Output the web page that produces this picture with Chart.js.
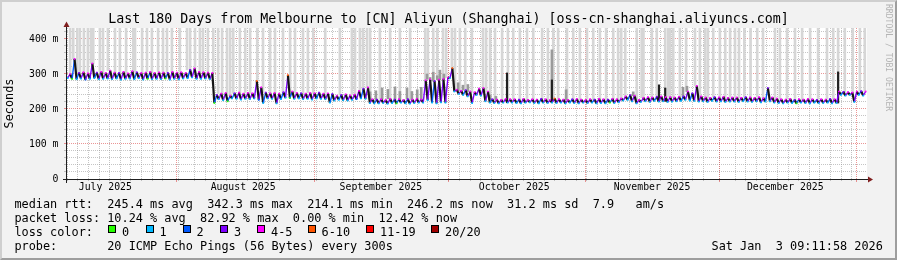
<!DOCTYPE html>
<html><head><meta charset="utf-8">
<script src="https://cdn.jsdelivr.net/npm/chart.js@4/dist/chart.umd.min.js"></script>
<style>
html,body{margin:0;padding:0;background:#f2f2f2;}
#frame{position:absolute;left:0;top:0;width:897px;height:260px;box-sizing:border-box;border-style:solid;border-width:2px;border-color:#cfcfcf #9e9e9e #9e9e9e #cfcfcf;background:#f2f2f2;}
#c{position:absolute;left:0;top:0;}
.t{position:absolute;font-family:'DejaVu Sans Mono',monospace;white-space:pre;color:#000;font-size:11.86px;line-height:14px;}
#title{left:0;width:897px;text-align:center;top:11px;font-size:13.3px;line-height:16px;}
#wm{position:absolute;left:884px;top:4px;font-family:'DejaVu Sans Mono',monospace;font-size:8.1px;color:#b4b4b4;writing-mode:vertical-rl;white-space:pre;}
.box{position:absolute;width:6px;height:6px;border:1px solid #000;}
</style></head>
<body>
<div id="frame"></div>
<canvas id="c" width="897" height="260"></canvas>
<div class="t" id="title">Last 180 Days from Melbourne to [CN] Aliyun (Shanghai) [oss-cn-shanghai.aliyuncs.com]</div>
<div id="wm">RRDTOOL / TOBI OETIKER</div>
<div id="legend"></div>
<script>
// ---- data (days since Jul 7 2025 09:11:58, 180 days) ----
const months = ['July 2025','August 2025','September 2025','October 2025','November 2025','December 2025'];
const monthMidDays = [8.62, 39.62, 70.62, 100.62, 131.62, 161.62];
const monthStartDays = [24.62, 55.62, 85.62, 116.62, 146.62, 177.62];
const yTickValues = [0, 100, 200, 300, 400];

// daily median peak (ms)
const medianPeak = [
 300,343,303,305,302,330,304,306,303,310,
 304,303,306,302,308,305,303,304,306,303,
 305,304,303,306,304,305,303,312,316,306,
 305,304,303,240,244,246,238,245,247,244,
 246,245,280,262,247,245,246,244,248,297,
 250,246,245,244,246,245,247,244,245,243,
 238,240,242,239,241,252,258,262,228,227,
 228,226,229,227,228,226,228,227,229,227,
 282,285,280,284,286,290,317,255,252,254,
 250,248,258,260,250,228,227,226,229,228,
 228,227,229,226,228,227,229,228,226,230,
 228,227,226,228,229,227,226,228,227,229,
 228,227,229,228,230,236,240,238,226,232,
 234,233,235,236,234,234,233,235,236,250,
 245,266,236,233,232,234,233,235,232,233,
 233,232,234,233,232,234,231,260,233,230,
 228,227,229,226,228,227,229,228,226,228,
 227,229,228,250,249,248,247,250,251,250];
// daily median trough (ms)
const medianTrough = [
 288,286,285,287,284,286,288,285,286,287,
 285,287,284,286,287,285,288,284,286,285,
 286,285,287,284,286,285,287,288,290,286,
 286,287,285,217,228,225,222,230,229,227,
 229,228,230,226,217,230,229,216,228,232,
 231,229,230,228,229,227,230,229,228,218,
 224,226,225,224,226,228,230,229,217,216,
 216,217,215,217,216,218,216,215,217,218,
 218,225,218,216,219,218,288,250,243,240,
 236,217,240,238,222,218,217,216,218,218,
 218,217,216,218,219,217,216,218,217,218,
 217,218,216,218,217,216,218,217,218,216,
 217,216,218,217,219,224,226,222,216,220,
 222,220,223,221,222,220,221,222,223,226,
 224,223,221,222,220,223,221,222,220,221,
 221,220,222,221,220,222,219,221,222,218,
 217,216,218,217,216,218,217,216,218,217,
 217,218,216,217,240,238,240,220,240,238];
// loss class at the peaks / troughs (index into loss colours)
const lossPeak = [
 4,4,3,4,4,4,3,4,4,4, 4,3,4,4,4,3,4,4,4,4, 4,4,3,4,4,4,4,3,4,4, 4,4,4,3,4,4,4,3,4,4,
 4,4,5,4,3,4,4,4,3,5, 4,4,3,4,4,4,3,4,4,3, 4,3,4,4,4,4,3,4,4,3, 4,4,4,3,4,4,3,4,4,4,
 4,4,3,4,4,4,5,4,4,3, 4,4,4,4,4,3,4,4,4,4, 4,3,4,4,4,4,3,4,4,5, 4,4,4,3,4,4,4,4,3,4,
 4,3,4,4,4,4,3,4,4,4, 4,4,3,4,4,4,4,4,3,4, 3,4,4,4,4,3,4,4,4,4, 4,4,3,4,4,4,4,3,4,4,
 4,4,4,3,4,4,4,4,3,4, 4,3,4,4,3,4,4,4,3,4];
const lossTrough = [
 1,0,1,1,2,1,1,1,1,1, 1,1,1,1,1,1,1,1,0,1, 1,1,0,1,1,1,1,1,1,1, 1,1,1,0,1,1,0,1,1,1,
 1,1,1,2,1,1,1,1,1,1, 0,1,1,1,1,1,1,1,1,1, 1,1,1,1,1,2,1,1,1,1, 1,1,1,1,0,1,1,1,1,1,
 1,1,1,1,1,1,1,1,1,1, 1,1,1,1,1,1,1,1,1,1, 1,1,1,1,1,1,1,1,1,1, 1,1,1,1,1,1,1,1,1,1,
 1,1,0,1,1,1,1,1,1,1, 1,1,1,1,1,1,1,1,1,1, 1,1,1,1,1,1,1,1,1,1, 1,1,1,1,1,1,1,1,1,1,
 1,1,1,1,0,1,1,1,1,1, 1,1,1,1,1,1,1,1,1,1];
// light grey smoke reaching above the graph (day positions)
const tallSmoke = [
 0.7,1.4,2.3,2.9,3.8,4.7,5.4,5.9,7.4,8.1,9.2,10.8,11.9,13.3,14.9,15.3,16.9,18.0,19.1,20.5,21.6,22.5,23.6,25.4,27.0,27.7,28.8,29.9,30.6,31.7,
 32.9,34.0,34.9,36.0,36.7,37.4,38.9,40.1,41.2,42.8,44.1,45.7,46.8,48.6,50.2,51.3,53.1,54.2,55.4,58.1,
 61.4,64.1,64.8,65.9,66.6,67.5,68.2,70.4,72.7,74.9,77.2,80.6,81.2,82.4,83.3,84.6,85.3,
 86.6,87.3,88.4,89.6,91.1,93.6,94.3,95.2,96.3,97.9,99.2,100.4,101.9,103.5,104.9,106.9,108.2,109.4,110.5,112.5,113.9,115.4,117.0,118.4,
 119.9,121.3,122.9,124.0,124.7,125.6,128.2,129.3,129.7,131.6,132.7,134.6,135.3,135.7,136.4,137.9,139.3,141.3,142.4,143.6,144.2,145.4,146.9,148.1,149.2,150.3,151.2,152.4,153.8,155.3,156.6,159.3,160.4,162.0,163.8,165.4,167.2,169.0,171.0,172.4,173.5,175.0,176.8,178.4,179.5];
// medium grey smoke above the median: [day, top ms]
const smokeTops = [
 [68.2,249],[69.5,252],[70.9,260],[72.2,256],[73.8,263],[74.9,250],[76.5,260],[77.6,250],[78.8,255],[79.7,262],
 [81.0,300],[81.7,290],[82.4,305],[83.3,295],[83.9,311],[84.8,300],[88.0,275],[89.1,268],[90.2,270],
 [95.2,240],[96.5,236],[109.1,369],[112.3,255],[127.4,249],[138.6,262],[139.5,265]];
// thin dark spikes: [day, top ms]
const spikes = [[99.0,303],[109.1,283],[133.2,269],[134.6,260],[173.5,306]];

const lossColors = ['#26ff00','#00b8ff','#0059ff','#7e00ff','#ff00ff','#ff5500','#ff0000','#a00000'];
const lossLabels = ['0','1','2','3','4-5','6-10','11-19','20/20'];

// ---- styling / layout ----
const GRID = 'rgba(150,150,150,0.55)';
const MGRID = 'rgba(222,79,79,0.6)';
const FONT = 'DejaVu Sans Mono';
const X_DAYS = 180, Y_MAX = 431.4;
const minorDays = [];
for (let d = 1.28; d < X_DAYS; d += 2.385) {
  if (!monthStartDays.some(m => Math.abs(m - d) < 0.7)) minorDays.push(d);
}
const yGrid = []; for (let v = 0; v <= 420; v += 20) yGrid.push(v);
const yGridColor = c => (c.tick && c.tick.value % 100 === 0) ? MGRID : GRID;

// ---- legend block (HTML text) ----
const L = document.getElementById('legend');
function line(txt, top, left){ const d=document.createElement('div'); d.className='t'; d.textContent=txt; d.style.top=top+'px'; d.style.left=(left||14.4)+'px'; L.appendChild(d); }
line('median rtt:  245.4 ms avg  342.3 ms max  214.1 ms min  246.2 ms now  31.2 ms sd  7.9   am/s', 197);
line('packet loss: 10.24 % avg  82.92 % max  0.00 % min  12.42 % now', 211);
line('loss color:', 225);
line('probe:       20 ICMP Echo Pings (56 Bytes) every 300s', 239);
line('Sat Jan  3 09:11:58 2026', 239, 711.5);
const boxX = [108,145.5,182.5,220,257,307.5,366,431];
lossLabels.forEach((lab,i)=>{
  const b=document.createElement('div'); b.className='box'; b.style.left=boxX[i]+'px'; b.style.top='225px'; b.style.background=lossColors[i]; L.appendChild(b);
  line(lab, 225, boxX[i]+14);
});

// ---- datasets ----
const medianPts = [];
for (let d = 0; d < medianPeak.length; d++) {
  medianPts.push({x: d + 0.15, y: medianTrough[d], c: lossTrough[d]});
  medianPts.push({x: d + 0.7, y: medianPeak[d], c: lossPeak[d]});
}
const tallData = tallSmoke.map(d => ({x: d, y: [medianPeak[Math.min(179, Math.floor(d))], 440]}));
const smokeData = smokeTops.map(([d, top]) => ({x: d, y: [medianPeak[Math.floor(d)], top]}));
const spikeData = spikes.map(([d, top]) => ({x: d, y: [medianTrough[Math.floor(d)], top]}));

const frame = {
  id: 'frame',
  beforeDraw(chart) {
    const {ctx, chartArea: a} = chart;
    ctx.save(); ctx.fillStyle = '#ffffff'; ctx.fillRect(a.left, a.top, a.right - a.left, a.bottom - a.top); ctx.restore();
  },
  beforeDatasetsDraw(chart) {
    // month-boundary (major) vertical grid lines, positioned by the x scale
    const {ctx, chartArea: a, scales} = chart;
    ctx.save();
    ctx.strokeStyle = MGRID; ctx.lineWidth = 1; ctx.setLineDash([1,1]);
    monthStartDays.forEach(v => {
      const px = Math.round(scales.x.getPixelForValue(v)) + 0.5;
      ctx.beginPath(); ctx.moveTo(px, a.top); ctx.lineTo(px, a.bottom); ctx.stroke();
    });
    ctx.setLineDash([]);
    monthStartDays.forEach(v => {
      const px = Math.round(scales.x.getPixelForValue(v)) + 0.5;
      ctx.beginPath(); ctx.moveTo(px, a.bottom); ctx.lineTo(px, a.bottom + 3); ctx.stroke();
    });
    ctx.restore();
  },
  afterDraw(chart) {
    const {ctx, chartArea: a} = chart;
    ctx.save();
    ctx.strokeStyle = '#1f1f1f'; ctx.lineWidth = 1;
    ctx.beginPath();
    ctx.moveTo(63, a.bottom + 0.5); ctx.lineTo(a.right + 2, a.bottom + 0.5);
    ctx.moveTo(a.left - 0.5, a.bottom + 4); ctx.lineTo(a.left - 0.5, a.top - 2);
    ctx.stroke();
    ctx.fillStyle = '#801f1f';
    ctx.beginPath();
    ctx.moveTo(a.right + 1, a.bottom - 2.5); ctx.lineTo(a.right + 6, a.bottom + 0.5); ctx.lineTo(a.right + 1, a.bottom + 3.5); ctx.closePath(); ctx.fill();
    ctx.beginPath();
    ctx.moveTo(a.left - 3.5, a.top - 1); ctx.lineTo(a.left - 0.5, a.top - 6.5); ctx.lineTo(a.left + 2.5, a.top - 1); ctx.closePath(); ctx.fill();
    ctx.restore();
  }
};

new Chart(document.getElementById('c'), {
  type: 'bar',
  data: {
    datasets: [
      {type:'bar', data: tallData, backgroundColor:'#d6d6d6', barThickness:2, grouped:false, borderWidth:0, order:4},
      {type:'bar', data: smokeData, backgroundColor:'#9a9a9a', barThickness:2, grouped:false, borderWidth:0, order:3},
      {type:'bar', data: spikeData, backgroundColor:'#202020', barThickness:1.5, grouped:false, borderWidth:0, order:2},
      {type:'line', data: medianPts, order:1, tension:0, borderWidth:1.5,
       pointRadius:1.2, pointStyle:'rect', pointBorderWidth:0,
       pointBackgroundColor: ctx => lossColors[(ctx.raw && ctx.raw.c) || 0],
       segment: {
         borderColor: ctx => ctx.p1.parsed.y < ctx.p0.parsed.y ? '#151515' : lossColors[Math.round((medianPts[ctx.p0DataIndex].c + medianPts[ctx.p1DataIndex].c)/2)],
         borderWidth: ctx => ctx.p1.parsed.y < ctx.p0.parsed.y ? 2.2 : 1.4
       }}
    ]
  },
  options: {
    responsive:false, animation:false, devicePixelRatio:1, events:[],
    layout:{padding:{top:28, right:30, left:0, bottom:0}},
    plugins:{legend:{display:false}, tooltip:{enabled:false}, title:{display:false}},
    scales:{
      x:{type:'linear', min:0, max:X_DAYS, offset:false, position:'bottom',
         afterBuildTicks: s => { s.ticks = minorDays.map(v => ({value:v})); },
         afterFit: s => { s.height = 2; },
         ticks:{display:false, autoSkip:false},
         grid:{color: GRID, tickColor: GRID, drawTicks:true, tickLength:2, lineWidth:1},
         border:{display:false, dash:[1,1]}},
      xl:{type:'linear', min:0, max:X_DAYS, offset:false, position:'bottom',
         afterBuildTicks: s => { s.ticks = monthMidDays.map(v => ({value:v})); },
         afterFit: s => { s.height = 79; },
         grid:{display:false, drawTicks:false}, border:{display:false},
         ticks:{autoSkip:false, maxRotation:0, padding:1, color:'#000', font:{family:FONT, size:9.8},
                callback:(v,i) => months[i]}},
      y:{type:'linear', min:0, max:Y_MAX, position:'left',
         afterBuildTicks: s => { s.ticks = yGrid.map(v => ({value:v})); },
         afterFit: s => { s.width = 67; },
         ticks:{autoSkip:false, padding:5.5, color:'#000', font:{family:FONT, size:9.8},
                callback: v => yTickValues.includes(v) ? (v === 0 ? '0' : v + ' m') : ''},
         grid:{color: yGridColor, tickColor: yGridColor, drawTicks:true, tickLength:3, lineWidth:1},
         border:{display:false, dash:[1,1]},
         title:{display:true, text:'Seconds', color:'#000', font:{family:FONT, size:11.86}, padding:{top:3, bottom:0}}}
    }
  },
  plugins:[frame]
});
</script>
</body></html>
